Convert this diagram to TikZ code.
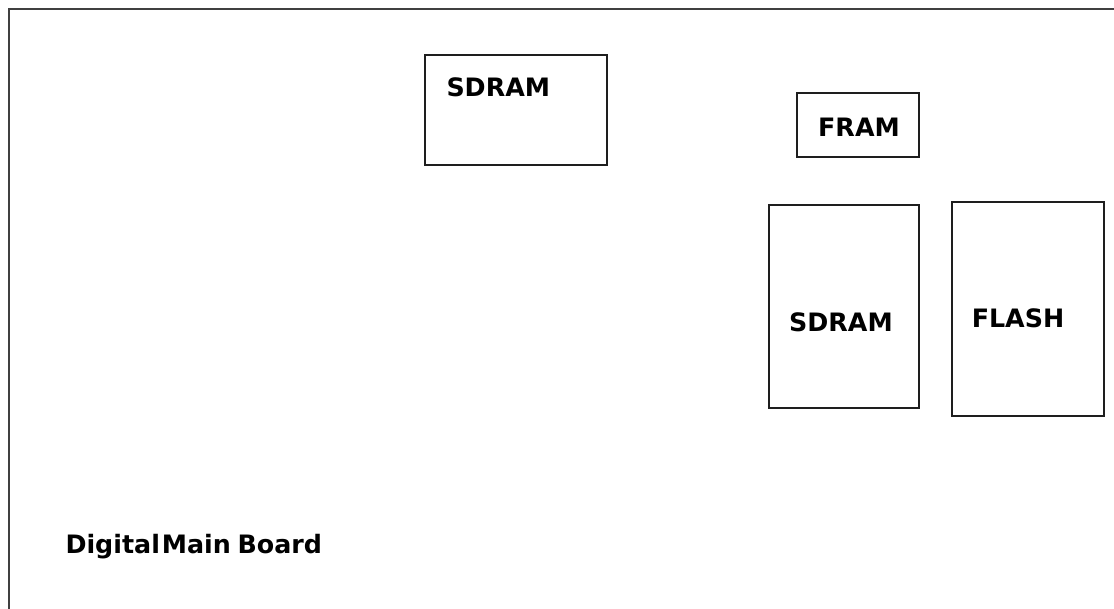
\documentclass[tikz,border=0pt]{standalone}
\usepackage{fontspec}
\setmainfont{DejaVu Sans}
\tikzset{every picture/.style={line width=0.75pt}}
\tikzset{
  chip/.style={draw={rgb, 255:red, 30; green, 30; blue, 30}, line width=1.5pt},
  chiplabel/.style={inner sep=0.75pt, font=\fontsize{19}{22}\selectfont\bfseries},
}

\begin{document}
\begin{tikzpicture}[x=0.75pt,y=0.75pt,yscale=-1,xscale=1]
\useasboundingbox (0,0) rectangle (1114,608);

%Shape: Rectangle (board outline, runs off the right and bottom)
\draw [color={rgb, 255:red, 64; green, 64; blue, 64 }, line width=2.2pt] (9,620) -- (9,9) -- (1125,9) ;

%Shape: Rectangle
\draw [chip] (425,55) rectangle (607,165) ;
%Shape: Rectangle
\draw [chip] (797,93) rectangle (919,157) ;
%Shape: Rectangle
\draw [chip] (769,205) rectangle (919,408) ;
%Shape: Rectangle
\draw [chip] (952,202) rectangle (1104,416) ;

% Text Node
\node [chiplabel, anchor=west] (sdramtop) at (445,87) {SDRAM};
% Text Node
\node [chiplabel] (fram) at (859,127) {FRAM};
% Text Node
\node [chiplabel] (sdramside) at (841,322) {SDRAM};
% Text Node
\node [chiplabel] (flash) at (1018,318) {FLASH};
% Text Node
\node [chiplabel, anchor=west] (board) at (64,547) {Digital\kern1.5pt Main\kern5pt Board};

\end{tikzpicture}
\end{document}
